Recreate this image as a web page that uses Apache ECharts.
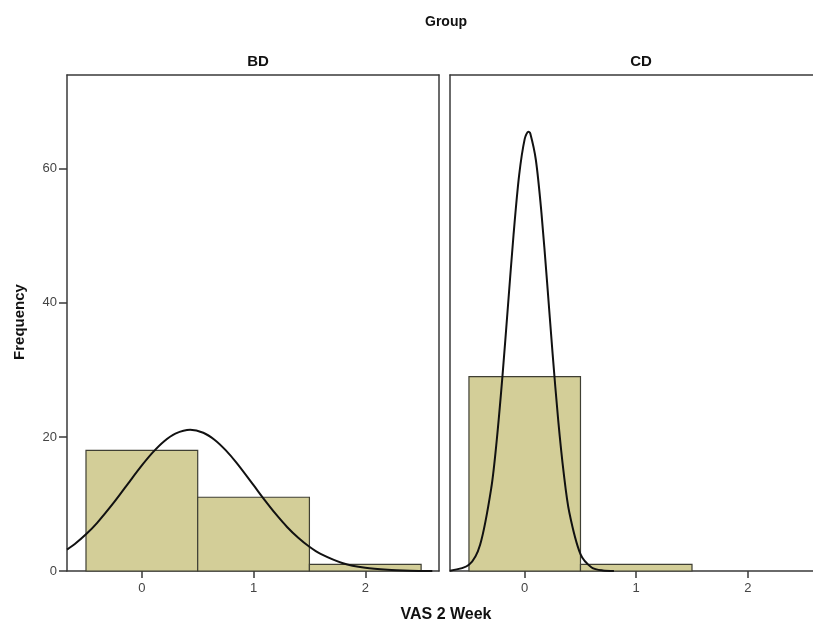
<!DOCTYPE html>
<html>
<head>
<meta charset="utf-8">
<script src="https://cdn.jsdelivr.net/npm/echarts@6/dist/echarts.min.js"></script>
<style>
  html, body { margin: 0; padding: 0; background: #fff; }
  #container { width: 813px; height: 629px; }
</style>
</head>
<body>
<div id="container"></div>
<script>
// histogram bins (VAS 2 Week), bin width 1
var binStart = [-0.5, 0.5, 1.5];
var binEnd = [0.5, 1.5, 2.5];
var countBD = [18, 11, 1];
var countCD = [29, 1, 0];

// normal curves
var curveBD_x = [-0.67, -0.6, -0.5, -0.4, -0.25, -0.1, 0, 0.1, 0.2, 0.3, 0.433, 0.55, 0.65, 0.75, 0.85, 1.0, 1.1, 1.2, 1.3, 1.4, 1.5, 1.6, 1.8, 2.0, 2.2, 2.4, 2.6];
var curveBD_y = [3.2, 4.03, 5.47, 7.19, 10.23, 13.57, 15.76, 17.74, 19.37, 20.5, 21.07, 20.63, 19.59, 18.03, 16.09, 12.8, 10.57, 8.47, 6.57, 4.95, 3.61, 2.55, 1.16, 0.47, 0.17, 0.05, 0.01];
var curveCD_x = [-0.67, -0.5, -0.4, -0.3, -0.25, -0.2, -0.15, -0.1, -0.05, 0, 0.033, 0.05, 0.1, 0.15, 0.2, 0.25, 0.3, 0.35, 0.4, 0.5, 0.6, 0.7, 0.8];
var curveCD_y = [0.04, 0.92, 3.92, 12.38, 19.66, 28.99, 39.61, 50.21, 59.06, 64.47, 65.55, 65.28, 61.32, 53.44, 43.21, 32.42, 22.56, 14.57, 8.72, 2.5, 0.53, 0.08, 0.01];

var yTicks = [0, 20, 40, 60];
var xTicks = [0, 1, 2];

function zip(a, b) {
  var out = [];
  for (var i = 0; i < a.length; i++) out.push([a[i], b[i]]);
  return out;
}
function bins(counts) {
  var out = [];
  for (var i = 0; i < counts.length; i++) {
    if (counts[i] > 0) out.push([binStart[i], binEnd[i], counts[i]]);
  }
  return out;
}

var myChart = echarts.init(document.getElementById('container'));

var font = 'Liberation Sans, Arial, sans-serif';
var lineCol = '#3a3a3a';
var axLine = { show: true, onZero: false, lineStyle: { color: lineCol, width: 1.5 } };

function xAxisFor(idx, xmax) {
  return {
    type: 'value', gridIndex: idx, min: -0.67, max: xmax,
    splitLine: { show: false },
    axisLine: axLine,
    axisTick: { show: true, length: 7, customValues: xTicks, lineStyle: { color: lineCol, width: 1.5 } },
    axisLabel: { customValues: xTicks, color: '#444', fontSize: 13, fontFamily: font, margin: 11 }
  };
}
// top frame line of each panel
function xTopFor(idx, xmax) {
  return {
    type: 'value', gridIndex: idx, position: 'top', min: -0.67, max: xmax,
    splitLine: { show: false }, axisLine: axLine,
    axisTick: { show: false }, axisLabel: { show: false }
  };
}
function yAxisFor(idx, labels) {
  return {
    type: 'value', gridIndex: idx, min: 0, max: 74,
    splitLine: { show: false },
    axisLine: axLine,
    axisTick: { show: labels, length: 8, customValues: yTicks, lineStyle: { color: lineCol, width: 1.5 } },
    axisLabel: { show: labels, customValues: yTicks, color: '#444', fontSize: 13, fontFamily: font, margin: 10 }
  };
}
function yRightFor(idx) {
  return {
    type: 'value', gridIndex: idx, position: 'right', min: 0, max: 74,
    splitLine: { show: false }, axisLine: axLine,
    axisTick: { show: false }, axisLabel: { show: false }
  };
}
function histSeries(idx, counts) {
  return {
    type: 'custom', xAxisIndex: idx, yAxisIndex: idx,
    data: bins(counts),
    encode: { x: [0, 1], y: 2 },
    renderItem: function (params, api) {
      var p0 = api.coord([api.value(0), api.value(2)]);
      var p1 = api.coord([api.value(1), 0]);
      return {
        type: 'rect',
        shape: { x: p0[0], y: p0[1], width: p1[0] - p0[0], height: p1[1] - p0[1] },
        style: { fill: '#d3ce98', stroke: '#3f3f33', lineWidth: 1.2 }
      };
    },
    z: 2
  };
}
function curveSeries(idx, xs, ys) {
  return {
    type: 'line', xAxisIndex: idx, yAxisIndex: idx,
    data: zip(xs, ys), smooth: 0.3, showSymbol: false,
    lineStyle: { color: '#111', width: 2 },
    clip: true, z: 3
  };
}

var option = {
  animation: false,
  backgroundColor: '#fff',
  title: [
    { text: 'Group', left: 441, top: 10, textAlign: 'center',
      textStyle: { fontSize: 14, fontWeight: 'bold', fontFamily: font, color: '#111' } },
    { text: 'BD', left: 253, top: 49, textAlign: 'center',
      textStyle: { fontSize: 15, fontWeight: 'bold', fontFamily: font, color: '#111' } },
    { text: 'CD', left: 636, top: 49, textAlign: 'center',
      textStyle: { fontSize: 15, fontWeight: 'bold', fontFamily: font, color: '#111' } },
    { text: 'VAS 2 Week', left: 441, top: 602, textAlign: 'center',
      textStyle: { fontSize: 16, fontWeight: 'bold', fontFamily: font, color: '#111' } }
  ],
  graphic: [{
    type: 'text', x: 20, y: 322, rotation: Math.PI / 2,
    style: { text: 'Frequency', fontSize: 15, fontWeight: 'bold', fontFamily: font,
             fill: '#111', align: 'center', verticalAlign: 'middle' }
  }],
  grid: [
    { left: 67, top: 75, width: 372, height: 496 },
    { left: 450, top: 75, width: 363, height: 496 }
  ],
  xAxis: [xAxisFor(0, 2.66), xAxisFor(1, 2.585), xTopFor(0, 2.66), xTopFor(1, 2.585)],
  yAxis: [yAxisFor(0, true), yAxisFor(1, false), yRightFor(0)],
  series: [
    histSeries(0, countBD),
    histSeries(1, countCD),
    curveSeries(0, curveBD_x, curveBD_y),
    curveSeries(1, curveCD_x, curveCD_y)
  ]
};

myChart.setOption(option);
</script>
</body>
</html>
